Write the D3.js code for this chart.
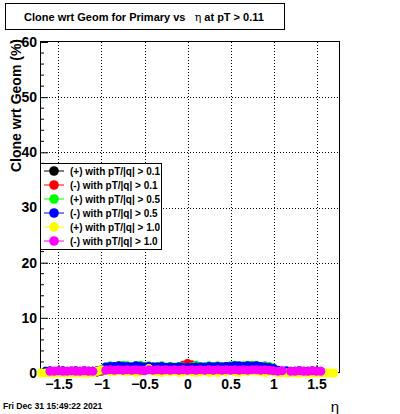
<!DOCTYPE html>
<html><head><meta charset="utf-8">
<script src="https://cdn.jsdelivr.net/npm/d3@7"></script>
<style>body{margin:0;background:#fff}svg{display:block}text{font-family:"Liberation Sans",Arial,sans-serif}</style>
</head><body>
<svg id="c" width="400" height="414"></svg>
<script>
// eta bin centers
const eta = [-1.70,-1.65,-1.60,-1.55,-1.50,-1.45,-1.40,-1.35,-1.30,-1.25,
             -1.20,-1.15,-1.10,-1.05,-1.00,-0.95,-0.90,-0.85,-0.80,-0.75,
             -0.70,-0.65,-0.60,-0.55,-0.50,-0.45,-0.40,-0.35,-0.30,-0.25,
             -0.20,-0.15,-0.10,-0.05,0.00,0.05,0.10,0.15,0.20,0.25,
             0.30,0.35,0.40,0.45,0.50,0.55,0.60,0.65,0.70,0.75,
             0.80,0.85,0.90,0.95,1.00,1.05,1.10,1.15,1.20,1.25,
             1.30,1.35,1.40,1.45,1.50,1.55,1.60,1.65,1.70];
const posPt01 = [null,0.2,0.2,0.1,0.2,0.3,0.2,0.2,0.1,0.2,
                 0.2,0.3,0.2,0.2,0.4,1.0,1.1,1.2,1.1,1.0,
                 1.2,1.1,1.1,1.0,1.2,1.1,1.0,1.1,1.2,1.0,
                 1.1,1.0,1.1,1.2,1.3,1.2,1.1,1.0,1.1,1.2,
                 1.1,1.0,1.1,1.2,1.1,1.0,1.2,1.1,1.2,1.3,
                 1.2,1.1,1.2,1.1,0.8,0.3,0.2,0.2,0.1,0.2,
                 0.3,0.2,0.2,0.1,0.2,0.2,null,null,null];
const negPt01 = [null,0.1,0.2,0.2,0.3,0.1,0.2,0.2,0.2,0.1,
                 0.2,0.2,0.3,0.2,0.3,0.9,1.0,1.1,1.0,1.1,
                 1.0,1.1,1.0,0.9,1.1,1.0,1.1,1.0,0.9,1.0,
                 1.1,1.0,1.1,1.4,1.7,1.5,1.0,1.1,1.0,0.9,
                 1.0,1.1,1.0,1.1,1.0,1.1,1.0,1.2,1.1,1.0,
                 1.1,1.0,1.1,1.0,0.7,0.2,0.3,0.2,0.2,0.1,
                 0.2,0.2,0.3,0.1,0.2,0.2,null,null,null];
const posPt05 = [null,0.3,0.3,0.2,0.3,0.3,0.2,0.3,0.3,0.2,
                 0.3,0.3,0.2,0.3,0.5,1.1,1.3,1.2,1.3,1.4,
                 1.3,1.2,1.3,1.4,1.2,1.3,1.1,1.2,1.3,1.1,
                 1.2,1.1,1.2,1.1,1.0,1.1,1.4,1.2,1.1,1.3,
                 1.2,1.3,1.1,1.2,1.3,1.4,1.2,1.3,1.4,1.3,
                 1.4,1.2,1.3,1.2,0.9,0.3,0.2,0.3,0.2,0.3,
                 0.2,0.3,0.2,0.3,0.2,0.2,null,null,null];
const negPt05 = [null,0.3,0.4,0.3,0.3,0.4,0.3,0.3,0.4,0.3,
                 0.4,0.3,0.3,0.4,0.6,1.1,1.2,1.2,1.3,1.2,
                 1.2,1.1,1.3,1.2,1.1,1.2,1.1,1.1,1.2,1.0,
                 1.1,1.0,1.1,1.0,1.0,1.0,1.1,1.1,1.0,1.2,
                 1.1,1.2,1.1,1.2,1.2,1.3,1.3,1.2,1.3,1.2,
                 1.3,1.2,1.1,1.0,0.8,0.5,0.3,0.4,0.3,0.3,
                 0.4,0.3,0.3,0.4,0.3,0.3,null,null,null];
const posPt10 = [0.0,0.0,0.1,0.0,0.0,0.1,0.0,0.0,0.0,0.1,
                 0.0,0.0,0.1,0.3,0.6,0.5,0.3,0.2,0.4,0.3,
                 0.2,0.3,0.1,0.2,0.4,0.8,0.3,0.2,0.1,0.3,
                 0.2,0.3,0.1,0.2,0.3,0.2,0.1,0.2,0.3,0.1,
                 0.2,0.1,0.3,0.2,0.4,0.2,0.1,0.3,0.2,0.4,
                 0.3,0.2,0.1,0.3,0.2,0.0,0.1,0.0,0.1,0.0,
                 0.0,0.1,0.0,0.0,0.0,0.1,0.0,0.0,0.0];
const negPt10 = [null,null,0.3,0.3,0.4,0.3,0.3,0.4,0.3,0.3,
                 0.4,0.3,0.3,null,null,0.5,0.6,0.5,0.6,0.5,
                 0.6,0.5,0.6,0.5,0.4,0.6,0.5,0.6,0.5,0.6,
                 0.5,0.6,0.5,0.6,0.5,0.6,0.5,0.6,0.5,0.6,
                 0.5,0.6,0.5,0.6,0.5,0.6,0.5,0.6,0.5,0.6,
                 0.6,0.5,0.6,0.5,0.4,0.3,0.4,null,0.3,0.3,
                 0.4,0.3,0.3,0.4,0.3,0.3,null,null,null];
const seriesNames = ["(+) with pT/|q| > 0.1","(-) with pT/|q| > 0.1","(+) with pT/|q| > 0.5",
                     "(-) with pT/|q| > 0.5","(+) with pT/|q| > 1.0","(-) with pT/|q| > 1.0"];
const seriesColors = ["#000000","#ff0000","#00ff00","#0000ff","#ffff00","#ff00ff"];
const seriesValues = [posPt01,negPt01,posPt05,negPt05,posPt10,negPt10];
const xTicks = [-1.5,-1,-0.5,0,0.5,1,1.5];
const yTicks = [0,10,20,30,40,50,60];

const svg = d3.select("#c");
const L=40,R=340,T=42,B=373;
const x = d3.scaleLinear().domain([-1.715,1.773]).range([L,R]);
const y = d3.scaleLinear().domain([0,60]).range([B,T]);

// grid
const g = svg.append("g");
g.selectAll(".gx").data(xTicks).join("line")
  .attr("x1",d=>Math.round(x(d))+0.5).attr("x2",d=>Math.round(x(d))+0.5)
  .attr("y1",B).attr("y2",T).attr("stroke","#000").attr("stroke-dasharray","1,2");
g.selectAll(".gy").data(yTicks.filter(d=>d>0&&d<60)).join("line")
  .attr("x1",L).attr("x2",R).attr("y1",d=>Math.round(y(d))+0.5).attr("y2",d=>Math.round(y(d))+0.5)
  .attr("stroke","#000").attr("stroke-dasharray","1,2");

// axes
const fmt = d => (d<0?"\u2212":"")+Math.abs(d);
const xAxis = d3.axisBottom(x).tickValues(xTicks).tickSize(-8).tickPadding(5).tickFormat(fmt);
const xa = svg.append("g").attr("transform",`translate(0,${B})`).call(xAxis);
xa.select(".domain").remove();
xa.selectAll("text").attr("font-size",14).attr("font-weight","bold").attr("dy","0.9em").attr("y",3);
const xMinor = d3.range(-17,18).map(i=>i/10).filter(v=>Math.abs(v*2-Math.round(v*2))>1e-6);
svg.append("g").selectAll("line").data(xMinor).join("line")
  .attr("x1",d=>x(d)).attr("x2",d=>x(d)).attr("y1",B).attr("y2",B-4).attr("stroke","#000");

const yAxis = d3.axisLeft(y).tickValues(yTicks).tickSize(-8).tickPadding(3);
const ya = svg.append("g").attr("transform",`translate(${L},0)`).call(yAxis);
ya.select(".domain").remove();
ya.selectAll("text").attr("font-size",14).attr("font-weight","bold").attr("x",-3);
svg.append("g").selectAll("line").data(d3.range(0,61,2).filter(v=>v%10)).join("line")
  .attr("x1",L).attr("x2",L+4).attr("y1",d=>y(d)).attr("y2",d=>y(d)).attr("stroke","#000");

// frame
svg.append("rect").attr("x",L+0.5).attr("y",T-0.5).attr("width",R-L-1).attr("height",B-T)
  .attr("fill","none").attr("stroke","#000");

// data
seriesValues.forEach((vals,k)=>{
  svg.append("g").selectAll("circle").data(eta.map((e,i)=>[e,vals[i]]).filter(d=>d[1]!=null))
    .join("circle").attr("cx",d=>x(d[0])).attr("cy",d=>y(d[1])).attr("r",4.5)
    .attr("fill",seriesColors[k]);
});

// legend
const lg = svg.append("g");
lg.append("rect").attr("x",40.5).attr("y",163.5).attr("width",121).attr("height",86)
  .attr("fill","#fff").attr("stroke","#000");
seriesNames.forEach((n,k)=>{
  const yy = 171+k*14;
  lg.append("line").attr("x1",44).attr("x2",64).attr("y1",yy).attr("y2",yy).attr("stroke",seriesColors[k]);
  lg.append("circle").attr("cx",54).attr("cy",yy).attr("r",4.8).attr("fill",seriesColors[k]);
  lg.append("text").attr("x",70).attr("y",yy+3.5).attr("font-size",10).attr("font-weight","bold").text(n);
});

// title box
svg.append("rect").attr("x",5.5).attr("y",3.5).attr("width",279).attr("height",26)
  .attr("fill","#fff").attr("stroke","#000");
const tt = svg.append("text").attr("x",144).attr("y",21).attr("text-anchor","middle")
  .attr("font-size",11).attr("font-weight","bold");
tt.append("tspan").text("Clone wrt Geom for Primary vs \u00a0\u00a0");
tt.append("tspan").attr("font-weight","normal").attr("font-family","DejaVu Serif").text("\u03b7");
tt.append("tspan").text(" at pT > 0.11");

// axis titles
svg.append("text").attr("transform","translate(21,39) rotate(-90)").attr("text-anchor","end")
  .attr("font-size",14).attr("font-weight","bold").text("Clone wrt Geom (%)");
svg.append("text").attr("x",339).attr("y",412).attr("text-anchor","end")
  .attr("font-size",15).attr("font-family","DejaVu Serif").text("\u03b7");
svg.append("text").attr("x",3).attr("y",409).attr("font-size",8.6).attr("font-weight","bold")
  .text("Fri Dec 31 15:49:22 2021");
</script>
</body></html>
